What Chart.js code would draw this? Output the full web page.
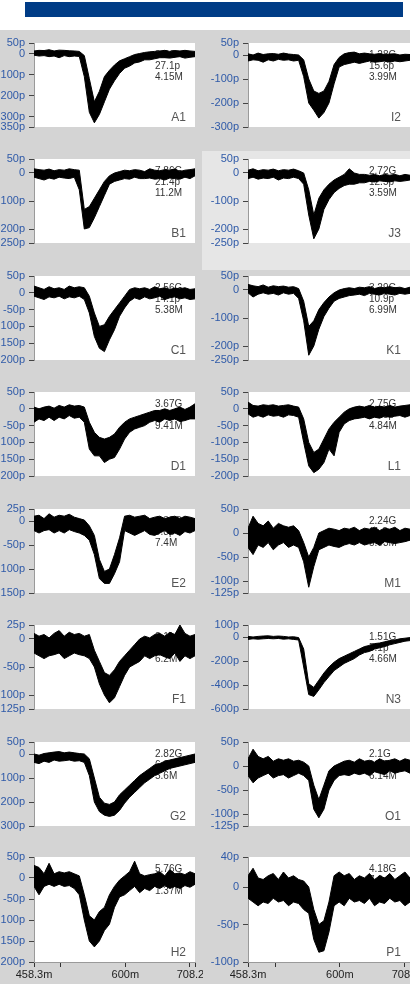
<!DOCTYPE html>
<html>
<head>
<meta charset="utf-8">
<script src="https://cdn.jsdelivr.net/npm/chart.js@4.4.1/dist/chart.umd.min.js"></script>
<style>
    html, body { margin: 0; padding: 0; }
    body { width: 410px; height: 984px; position: relative; overflow: hidden; background: #d4d4d4; }
    #header { position: absolute; left: 0; top: 0; width: 410px; height: 30px; background: #fff; }
    #bar { position: absolute; left: 25px; top: 2px; width: 378px; height: 15px; background: #003c86; }
    #hilite { position: absolute; left: 202px; top: 151px; width: 208px; height: 119px; background: #e6e6e6; }
    canvas { position: absolute; }
</style>
</head>
<body>
<div id="header"><div id="bar"></div></div>
<div id="hilite"></div>
<script>
// Time axis (ms) shared by every trace
const times = [458.3, 466.1, 473.9, 481.7, 489.5, 497.3, 505.2, 513.0, 520.8, 528.6, 536.4, 544.2, 552.0, 559.8, 567.6, 575.4, 583.2, 591.1, 598.9, 606.7, 614.5, 622.3, 630.1, 637.9, 645.7, 653.5, 661.3, 669.1, 677.0, 684.8, 692.6, 700.4, 708.2];
const xTicks = [458.3, 500, 600, 700, 708.2];
const xTickLabels = ['458.3m', '', '600m', '', '708.2m'];

// Each trace is a noisy band: upper and lower edge (pA)
const a1Upper = [12, 15, 14, 18, 12, 16, 15, 13, 12, 10, -10, -120, -230, -180, -110, -80, -55, -35, -25, -15, -5, 0, 5, 8, 10, 12, 15, 10, 14, 12, 15, 12, 10];
const a1Lower = [-8, -12, -10, -15, -12, -20, -10, -15, -12, -14, -110, -280, -330, -290, -230, -170, -130, -95, -70, -60, -45, -40, -30, -30, -25, -20, -20, -22, -18, -15, -22, -18, -15];
const a1Ticks = [50, 0, -100, -200, -300, -350];
const a1Text = ['8.2G', '27.1p', '4.15M'];

const b1Upper = [15, 12, 10, 14, 8, 12, 10, 15, 12, 10, -130, -120, -90, -60, -30, -10, 0, 5, 10, 8, 12, 10, 5, 15, 10, 8, 12, 10, 15, 5, 10, 12, 15];
const b1Lower = [-15, -20, -25, -18, -22, -15, -18, -20, -15, -60, -200, -195, -160, -120, -80, -40, -30, -25, -20, -22, -15, -20, -20, -18, -22, -20, -25, -18, -20, -22, -15, -20, -10];
const b1Ticks = [50, 0, -100, -200, -250];
const b1Text = ['7.86G', '21.4p', '11.2M'];

const c1Upper = [20, 15, 10, 18, 12, 15, 10, 20, 15, 18, 15, -10, -60, -100, -95, -70, -50, -30, -10, 10, 15, 12, 15, 10, 18, 12, 15, 10, 14, 12, 15, 10, 12];
const c1Lower = [-10, -15, -20, -12, -15, -10, -18, -12, -15, -10, -20, -60, -130, -165, -175, -140, -110, -70, -45, -25, -15, -20, -12, -18, -15, -10, -20, -15, -12, -18, -15, -20, -18];
const c1Ticks = [50, 0, -50, -100, -150, -200];
const c1Text = ['2.56G', '14.1p', '5.38M'];

const d1Upper = [5, 0, 5, 8, 2, 10, 5, 12, 8, 10, 5, -40, -70, -85, -90, -85, -75, -55, -40, -30, -25, -20, -15, -10, -5, -5, 0, -5, 0, 5, -2, 5, 15];
const d1Lower = [-40, -30, -35, -25, -35, -25, -30, -20, -28, -25, -40, -120, -140, -140, -160, -150, -145, -120, -90, -70, -60, -55, -50, -40, -35, -40, -30, -35, -30, -38, -35, -30, -30];
const d1Ticks = [50, 0, -50, -100, -150, -200];
const d1Text = ['3.67G', '17.2p', '9.41M'];

const e2Upper = [10, 12, 5, 15, 8, 12, 10, 14, 8, 5, 2, -10, -30, -80, -105, -100, -70, -35, 10, 12, 8, 10, 12, 5, 8, 10, 5, 8, 10, 5, 10, 8, 5];
const e2Lower = [-20, -25, -20, -18, -25, -20, -25, -18, -22, -25, -30, -40, -70, -120, -130, -130, -110, -85, -20, -25, -30, -25, -20, -28, -30, -25, -20, -28, -25, -30, -22, -25, -20];
const e2Ticks = [25, 0, -50, -100, -150];
const e2Text = ['1.32G', '9.8p', '7.4M'];

const f1Upper = [10, 5, 8, 2, 10, 15, 5, 12, 8, 10, 5, 8, -20, -40, -60, -65, -55, -40, -30, -20, -10, 0, 5, 2, 8, 10, 5, 12, 8, 25, 10, 5, 8];
const f1Lower = [-25, -30, -35, -30, -28, -25, -35, -30, -25, -28, -30, -35, -50, -80, -100, -114, -105, -85, -65, -50, -45, -40, -30, -35, -30, -28, -32, -35, -25, -40, -30, -35, -30];
const f1Ticks = [25, 0, -50, -100, -125];
const f1Text = ['2.11G', '8.7p', '6.2M'];

const g2Upper = [0, -5, 2, 5, 8, 10, 5, 8, 5, 2, 0, -20, -100, -180, -205, -210, -200, -170, -150, -130, -110, -90, -75, -60, -45, -40, -30, -25, -20, -15, -10, -5, 0];
const g2Lower = [-35, -40, -30, -35, -25, -30, -28, -25, -30, -28, -35, -90, -200, -240, -255, -260, -255, -235, -205, -180, -160, -140, -120, -105, -90, -80, -70, -60, -55, -50, -45, -40, -35];
const g2Ticks = [50, 0, -100, -200, -300];
const g2Text = ['2.82G', '6.9p', '5.6M'];

const h2Upper = [30, 25, 10, 35, 10, 15, 12, 15, 10, 5, -40, -90, -100, -80, -70, -40, -20, -5, 5, 15, 40, 10, 5, 8, 10, 15, 5, 20, 10, 12, 8, 15, 10];
const h2Lower = [-20, -40, -20, -15, -20, -15, -20, -18, -25, -40, -100, -150, -164, -150, -125, -110, -70, -45, -40, -30, -20, -35, -25, -30, -20, -25, -18, -25, -20, -25, -18, -22, -15];
const h2Ticks = [50, 0, -50, -100, -150, -200];
const h2Text = ['5.76G', '20.3p', '1.37M'];

const i2Upper = [5, 0, 8, 2, 5, 6, 3, 8, 4, 2, 0, -20, -100, -150, -160, -150, -110, -40, -10, 5, 10, 12, 5, 8, 5, 3, 6, 2, 4, 5, 0, 3, 2];
const i2Lower = [-25, -20, -22, -30, -20, -25, -18, -22, -20, -25, -22, -90, -200, -230, -263, -240, -200, -120, -50, -40, -35, -30, -35, -30, -25, -30, -28, -25, -30, -25, -28, -25, -22];
const i2Ticks = [50, 0, -100, -200, -300];
const i2Text = ['1.28G', '15.6p', '3.99M'];

const j3Upper = [10, 15, 8, 12, 10, 14, 8, 12, 10, 14, 8, 0, -60, -150, -90, -60, -40, -25, -15, -5, 15, 0, -5, -5, -8, -5, -10, -5, -8, -5, -10, -5, -8];
const j3Lower = [-20, -15, -22, -18, -20, -15, -25, -18, -20, -15, -20, -40, -150, -235, -200, -130, -95, -70, -55, -45, -40, -40, -35, -35, -30, -32, -28, -30, -32, -28, -30, -28, -25];
const j3Ticks = [50, 0, -100, -200, -250];
const j3Text = ['2.72G', '12.5p', '3.59M'];

const k1Upper = [20, 15, 12, 18, 10, 15, 12, 14, 10, 12, 5, -40, -130, -110, -70, -45, -25, -10, 0, 5, 8, 5, 10, 8, 12, 5, 10, 8, 12, 8, 10, 5, 10];
const k1Lower = [-10, -25, -15, -10, -15, -12, -18, -10, -15, -12, -30, -110, -233, -200, -140, -95, -65, -40, -30, -25, -20, -18, -15, -20, -12, -15, -18, -12, -15, -18, -12, -15, -12];
const k1Ticks = [50, 0, -100, -200, -250];
const k1Text = ['3.29G', '10.9p', '6.99M'];

const l1Upper = [20, 10, 8, 12, 10, 12, 8, 10, 12, 8, 5, -30, -100, -130, -120, -90, -60, -40, -25, -10, 0, 5, 8, 5, 10, 5, 8, 5, 10, 5, 8, 10, 12];
const l1Lower = [-15, -25, -20, -25, -18, -22, -20, -25, -18, -20, -25, -100, -170, -190, -180, -160, -120, -140, -70, -45, -35, -30, -28, -25, -30, -25, -28, -22, -25, -22, -20, -25, -20];
const l1Ticks = [50, 0, -50, -100, -150, -200];
const l1Text = ['2.75G', '13.3p', '4.84M'];

const m1Upper = [10, 35, 20, 15, 25, 10, 20, 15, 12, 15, 5, -20, -50, -30, 0, 5, 10, 8, 5, 10, 8, 12, 5, 10, 8, 12, 5, 10, 8, 12, 5, 10, 8];
const m1Lower = [-30, -45, -25, -30, -20, -35, -25, -20, -30, -25, -30, -60, -113, -70, -35, -30, -25, -28, -30, -25, -22, -25, -20, -25, -22, -20, -25, -18, -20, -22, -20, -18, -15];
const m1Ticks = [50, 0, -50, -100, -125];
const m1Text = ['2.24G', '11.3p', '5.03M'];

const n3Upper = [5, 0, 5, 8, 10, 5, 8, 5, 0, 2, -5, -100, -390, -420, -360, -300, -250, -210, -180, -160, -140, -120, -100, -80, -70, -55, -50, -40, -30, -25, -15, -10, -5];
const n3Lower = [-20, -15, -18, -15, -12, -15, -12, -18, -15, -20, -25, -250, -480, -495, -440, -380, -330, -280, -250, -220, -200, -180, -150, -130, -120, -100, -90, -80, -65, -55, -45, -35, -30];
const n3Ticks = [100, 0, -200, -400, -600];
const n3Text = ['1.51G', '5.1p', '4.66M'];

const o1Upper = [15, 35, 20, 15, 20, 10, 15, 12, 15, 10, 12, 8, 0, -40, -70, -40, -10, 0, 5, 10, 12, 8, 15, 10, 12, 8, 15, 10, 12, 15, 10, 15, 12];
const o1Lower = [-20, -35, -25, -20, -15, -25, -20, -18, -25, -20, -15, -20, -30, -90, -108, -90, -50, -30, -20, -18, -20, -15, -18, -15, -20, -12, -15, -18, -10, -15, -12, -10, -15];
const o1Ticks = [50, 0, -50, -100, -125];
const o1Text = ['2.1G', '12.9p', '6.14M'];

const p1Upper = [15, 25, 12, 10, 15, 18, 10, 20, 12, 15, 10, 8, 0, -30, -50, -45, -20, 15, 20, 15, 18, 10, 15, 12, 18, 10, 15, 12, 18, 10, 15, 20, 12];
const p1Lower = [-15, -20, -25, -20, -22, -15, -20, -18, -25, -20, -22, -30, -35, -70, -87, -85, -60, -25, -20, -25, -15, -20, -18, -22, -15, -25, -20, -22, -15, -20, -18, -25, -20];
const p1Ticks = [40, 0, -50, -100];
const p1Text = ['4.18G', '7.6p', '1.82M'];

// Panel lists, one per column
const leftPanels = [
    { name: 'A1', upper: a1Upper, lower: a1Lower, ticks: a1Ticks, text: a1Text },
    { name: 'B1', upper: b1Upper, lower: b1Lower, ticks: b1Ticks, text: b1Text },
    { name: 'C1', upper: c1Upper, lower: c1Lower, ticks: c1Ticks, text: c1Text },
    { name: 'D1', upper: d1Upper, lower: d1Lower, ticks: d1Ticks, text: d1Text },
    { name: 'E2', upper: e2Upper, lower: e2Lower, ticks: e2Ticks, text: e2Text },
    { name: 'F1', upper: f1Upper, lower: f1Lower, ticks: f1Ticks, text: f1Text },
    { name: 'G2', upper: g2Upper, lower: g2Lower, ticks: g2Ticks, text: g2Text },
    { name: 'H2', upper: h2Upper, lower: h2Lower, ticks: h2Ticks, text: h2Text }
];
const rightPanels = [
    { name: 'I2', upper: i2Upper, lower: i2Lower, ticks: i2Ticks, text: i2Text },
    { name: 'J3', upper: j3Upper, lower: j3Lower, ticks: j3Ticks, text: j3Text },
    { name: 'K1', upper: k1Upper, lower: k1Lower, ticks: k1Ticks, text: k1Text },
    { name: 'L1', upper: l1Upper, lower: l1Lower, ticks: l1Ticks, text: l1Text },
    { name: 'M1', upper: m1Upper, lower: m1Lower, ticks: m1Ticks, text: m1Text },
    { name: 'N3', upper: n3Upper, lower: n3Lower, ticks: n3Ticks, text: n3Text },
    { name: 'O1', upper: o1Upper, lower: o1Lower, ticks: o1Ticks, text: o1Text },
    { name: 'P1', upper: p1Upper, lower: p1Lower, ticks: p1Ticks, text: p1Text }
];

// Layout of the grid (page pixels)
const plotTops = [43, 159, 276, 392, 509, 625, 742, 857];
const plotHeight = 105;
const axisWidth = 44;
const tickFont = { family: "'Liberation Sans', Arial, sans-serif", size: 11 };

// White plot area, readouts and the panel name
const panelDecor = {
    id: 'panelDecor',
    beforeDraw(chart) {
        const a = chart.chartArea;
        const ctx = chart.ctx;
        ctx.save();
        ctx.fillStyle = '#ffffff';
        ctx.fillRect(a.left, a.top, a.right - a.left, a.bottom - a.top);
        ctx.restore();
    },
    beforeDatasetsDraw(chart, args, opts) {
        const a = chart.chartArea;
        const ctx = chart.ctx;
        ctx.save();
        ctx.font = "10px 'Liberation Sans', Arial, sans-serif";
        ctx.fillStyle = '#333333';
        ctx.textAlign = 'left';
        ctx.textBaseline = 'middle';
        opts.text.forEach((t, i) => {
            ctx.fillText(t, a.left + 121, a.top + 12 + i * 11);
        });
        ctx.restore();
    },
    afterDatasetsDraw(chart, args, opts) {
        const a = chart.chartArea;
        const ctx = chart.ctx;
        ctx.save();
        ctx.font = "12px 'Liberation Sans', Arial, sans-serif";
        ctx.fillStyle = '#555555';
        ctx.textAlign = 'right';
        ctx.textBaseline = 'alphabetic';
        ctx.fillText(opts.name, a.right - 9, a.bottom - 6);
        ctx.restore();
    }
};

function toPoints(values) {
    return values.map((v, i) => ({ x: times[i], y: v }));
}

// Build one small trace panel
function makePanel(panel, col, row) {
    const isBottom = row === plotTops.length - 1;
    const canvas = document.createElement('canvas');
    const left = col === 0 ? -10 : 204;
    const width = col === 0 ? 213 : 206;
    const height = 8 + plotHeight + (isBottom ? 21 : 8);
    canvas.width = width;
    canvas.height = height;
    canvas.style.left = left + 'px';
    canvas.style.top = (plotTops[row] - 8) + 'px';
    document.body.appendChild(canvas);

    new Chart(canvas, {
        type: 'line',
        data: {
            datasets: [{
                data: toPoints(panel.upper),
                borderColor: '#000',
                backgroundColor: '#000',
                borderWidth: 1,
                pointRadius: 0,
                tension: 0,
                fill: '+1'
            }, {
                data: toPoints(panel.lower),
                borderColor: '#000',
                borderWidth: 1,
                pointRadius: 0,
                tension: 0,
                fill: false
            }]
        },
        options: {
            responsive: false,
            animation: false,
            events: [],
            layout: { padding: { left: 0, right: col === 0 ? 8 : 0, top: 8, bottom: isBottom ? 0 : 8 } },
            plugins: {
                legend: { display: false },
                tooltip: { enabled: false },
                panelDecor: { name: panel.name, text: panel.text }
            },
            scales: {
                x: {
                    type: 'linear',
                    min: times[0],
                    max: times[times.length - 1],
                    display: isBottom,
                    afterBuildTicks: s => { s.ticks = xTicks.map(v => ({ value: v })); },
                    afterFit: s => { s.height = 21; s.paddingLeft = 0; s.paddingRight = 0; },
                    ticks: {
                        autoSkip: false,
                        maxRotation: 0,
                        padding: 1,
                        color: '#222',
                        font: tickFont,
                        callback: (v, i) => xTickLabels[i]
                    },
                    grid: { drawOnChartArea: false, tickLength: 5, color: '#333' },
                    border: { color: '#9a9a9a' }
                },
                y: {
                    type: 'linear',
                    min: panel.ticks[panel.ticks.length - 1],
                    max: panel.ticks[0],
                    afterBuildTicks: s => { s.ticks = panel.ticks.map(v => ({ value: v })); },
                    afterFit: s => { s.width = axisWidth; s.paddingTop = 0; s.paddingBottom = 0; },
                    ticks: {
                        autoSkip: false,
                        padding: 4,
                        color: '#2f5aa8',
                        font: tickFont,
                        callback: v => (v === 0 ? '0' : v + 'p')
                    },
                    grid: { drawOnChartArea: false, tickLength: 5, color: '#444' },
                    border: { color: '#9a9a9a' }
                }
            }
        },
        plugins: [panelDecor]
    });
}

leftPanels.forEach((p, row) => makePanel(p, 0, row));
rightPanels.forEach((p, row) => makePanel(p, 1, row));
</script>
</body>
</html>
